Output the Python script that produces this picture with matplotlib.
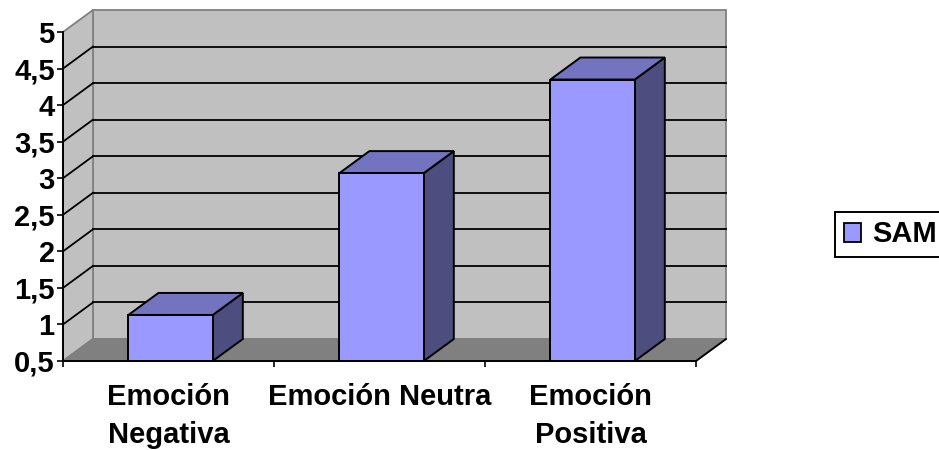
import matplotlib
matplotlib.use('Agg')
import matplotlib.pyplot as plt
from matplotlib.patches import Polygon, Patch
import numpy as np

# datos del grafico
categorias = ['Emoción\nNegativa', 'Emoción Neutra', 'Emoción\nPositiva']
sam = [1.13, 3.07, 4.35]
serie = 'SAM'
y_ticks = [0.5, 1, 1.5, 2, 2.5, 3, 3.5, 4, 4.5, 5]
y_labels = ['0,5', '1', '1,5', '2', '2,5', '3', '3,5', '4', '4,5', '5']

plt.rcParams['font.family'] = ['Liberation Sans', 'DejaVu Sans']
plt.rcParams['font.weight'] = 'bold'

fig = plt.figure(figsize=(9.39, 4.5), dpi=100)
ax = fig.add_axes([63 / 939, 89 / 450, 633 / 939, 329 / 450])
ymin, ymax = 0.5, 5
ax.set_xlim(-0.5, 2.5)
ax.set_ylim(ymin, ymax)

# profundidad del efecto 3D (en unidades de datos)
dx = 30 / 211
dy = 22 / 73.1

wall = '#c0c0c0'
floor = '#808080'
edge_gray = '#808080'

def poly(pts, fc, ec, lw=1.0, z=1):
    p = Polygon(pts, closed=True, facecolor=fc, edgecolor=ec, linewidth=lw,
                zorder=z, clip_on=False, joinstyle='miter')
    ax.add_patch(p)

x0, x1 = -0.5, 2.5
# pared del fondo y pared izquierda
poly([(x0 + dx, ymin + dy), (x1 + dx, ymin + dy), (x1 + dx, ymax + dy), (x0 + dx, ymax + dy)], wall, edge_gray, 1.3)
poly([(x0, ymin), (x0 + dx, ymin + dy), (x0 + dx, ymax + dy), (x0, ymax)], wall, edge_gray, 1.3)
# suelo
poly([(x0, ymin), (x1, ymin), (x1 + dx, ymin + dy), (x0 + dx, ymin + dy)], floor, edge_gray, 1.3)
ax.plot([x1, x1 + dx], [ymin, ymin + dy], color='black', lw=1.3, zorder=2, clip_on=False)

# lineas de division
for v in y_ticks[1:-1]:
    ax.plot([x0 + dx, x1 + dx], [v + dy, v + dy], color='black', lw=1.3, zorder=2, clip_on=False)
    ax.plot([x0, x0 + dx], [v, v + dy], color='black', lw=1.3, zorder=2, clip_on=False)

# columnas 3D
ancho = 0.40
desp = 0.01
frente = '#9999ff'
arriba = '#7373c0'
lado = '#4d4d80'
for i, v in enumerate(sam):
    a = i - ancho / 2 + desp
    b = i + ancho / 2 + desp
    poly([(b, ymin), (b + dx, ymin + dy), (b + dx, v + dy), (b, v)], lado, 'black', 1.4, 3)
    poly([(a, v), (b, v), (b + dx, v + dy), (a + dx, v + dy)], arriba, 'black', 1.4, 3)
    poly([(a, ymin), (b, ymin), (b, v), (a, v)], frente, 'black', 1.4, 4)

# ejes
for s in ['top', 'right']:
    ax.spines[s].set_visible(False)
for s in ['left', 'bottom']:
    ax.spines[s].set_linewidth(1.4)
    ax.spines[s].set_zorder(5)
ax.patch.set_visible(False)

ax.set_yticks(y_ticks)
ax.set_yticklabels(y_labels, fontsize=21, fontweight='bold')
ax.tick_params(axis='y', direction='out', length=4.5, width=1.2, pad=1.5)

ax.set_xticks(range(len(categorias)))
ax.set_xticklabels(categorias, fontsize=21, fontweight='bold', linespacing=1.45)
ax.set_xticks([-0.5, 0.5, 1.5, 2.5], minor=True)
ax.tick_params(axis='x', which='major', length=0, pad=16)
ax.tick_params(axis='x', which='minor', direction='out', length=4.5, width=1.2)

# leyenda
h = Patch(facecolor=frente, edgecolor='black', linewidth=1.3)
leg = fig.legend([h], [serie], loc='center left', bbox_to_anchor=(835 / 939, 215.5 / 450),
                 prop={'size': 21, 'weight': 'bold'}, fancybox=False, framealpha=1,
                 handlelength=0.6, handleheight=0.63, handletextpad=0.36, borderpad=0.3,
                 borderaxespad=0)
leg.get_frame().set_edgecolor('black')
leg.get_frame().set_linewidth(1.4)

fig.savefig('out.png', dpi=100)
